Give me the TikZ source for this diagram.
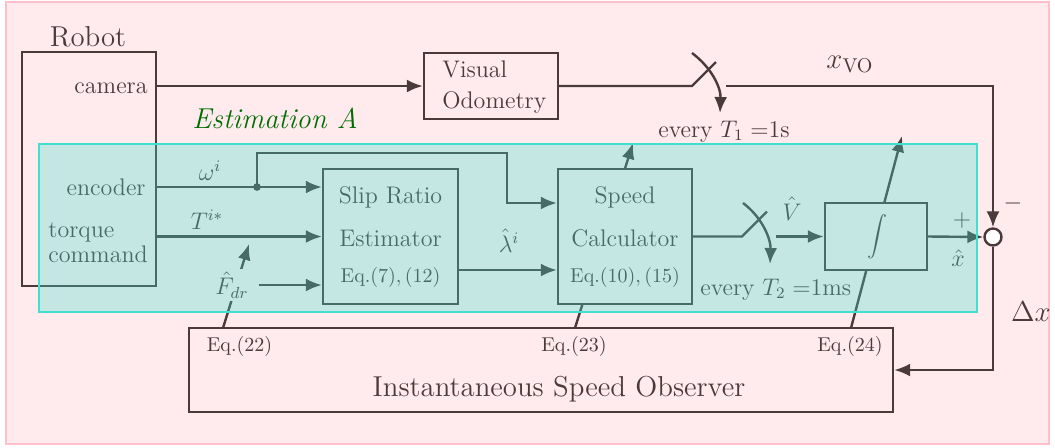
\documentclass[tikz,border=0pt]{standalone}
\usetikzlibrary{arrows.meta,calc}
\definecolor{bgpink}{RGB}{255,235,238}
\definecolor{framepink}{RGB}{255,192,203}
\definecolor{ink}{RGB}{74,58,58}
\definecolor{turq}{RGB}{64,224,208}
\definecolor{estgreen}{RGB}{0,110,0}
\begin{document}
\begin{tikzpicture}[x=0.5pt,y=-0.5pt,
  box/.style={draw=ink, line width=1.2pt, fill=bgpink, inner sep=0pt, rectangle},
  conn/.style={draw=ink, line width=1.2pt},
  arr/.style={conn, -{Latex[length=8pt,width=6.5pt]}},
  lbl/.style={text=ink, inner sep=0pt, anchor=base}]
\useasboundingbox (0,0) rectangle (1055,447);
\path[fill=bgpink, draw=framepink, line width=1.2pt] (6,2) rectangle (1049,444);

% parameter-update lines (drawn beneath the blocks)
\coordinate (p22s) at (223,328); \coordinate (p22e) at (249,244);
\coordinate (p23s) at (575,328); \coordinate (p23e) at (633,143);
\coordinate (p24s) at (851,328); \coordinate (p24e) at (902,136);
\draw[arr] (p22s) -- (p22e);
\draw[arr] (p23s) -- (p23e);
\draw[arr] (p24s) -- (p24e);

% blocks
\node[box, minimum width=67pt, minimum height=117pt] (robot) at (89,169) {};
\node[box, minimum width=67pt, minimum height=33pt] (vo) at (491,86) {};
\node[box, minimum width=67.5pt, minimum height=67.5pt] (slip) at (390.5,236.5) {};
\node[box, minimum width=67pt, minimum height=67.5pt] (speed) at (625,236.5) {};
\node[box, minimum width=51pt, minimum height=33.5pt] (integ) at (876,236.5) {};
\node[box, minimum width=352pt, minimum height=42pt] (iso) at (541,370) {};
\node[circle, draw=ink, fill=white, line width=1.2pt, minimum size=8.5pt, inner sep=0pt] (sum) at (993,237) {};
\node[lbl, anchor=center, fill=bgpink, inner sep=1.5pt] (fdr) at (232,285) {\large$\hat{F}_{dr}$};

% coordinates
\coordinate (wdot) at (257,187);
\coordinate (spin) at ($(speed.west)+(0,-33.5)$);
\coordinate (sw1in) at (692,86); \coordinate (sw1tip) at (716,62); \coordinate (sw1out) at (726,86);
\coordinate (arc1s) at (692,53); \coordinate (arc1e) at (720,113);
\coordinate (sw2in) at (742,236.5); \coordinate (sw2tip) at (767,211.5); \coordinate (sw2out) at (776,236.5);
\coordinate (arc2s) at (743,203); \coordinate (arc2e) at (770,264);

% connectors
\draw[arr] (vo.west -| robot.east) -- (vo.west);
\draw[conn] (vo.east) -- (sw1in) -- (sw1tip);
\draw[arr] (arc1s) .. controls (712,68) and (721,88) .. (arc1e);
\draw[arr] (sw1out) -| (sum.north);
\draw[arr] (robot.east |- wdot) -- (slip.west |- wdot);
\fill[ink] (wdot) circle (1.9pt);
\draw[arr] (wdot) |- (507,153) |- (spin);
\draw[arr] (robot.east |- slip.west) -- (slip.west);
\draw[arr, shorten <=3.5pt] (fdr.east) -- (slip.west |- fdr.east);
\draw[arr] ($(slip.east)+(0,33.5)$) -- ($(speed.west)+(0,33.5)$);
\draw[conn] (speed.east) -- (sw2in) -- (sw2tip);
\draw[arr] (arc2s) .. controls (763,218) and (771,240) .. (arc2e);
\draw[arr] (sw2out) -- (integ.west);
\draw[arr] (integ.east) -- (sum.west);
\draw[arr] (sum.south) |- (iso.east);

% labels
\node[lbl] (trobot) at (88,46) {\Large Robot};
\node[lbl, anchor=base east] (tcam) at (148,93) {\large camera};
\node[lbl, anchor=base east] (tenc) at (146,195) {\large encoder};
\node[lbl, anchor=base west] (ttq1) at (48,237) {\large torque};
\node[lbl, anchor=base west] (ttq2) at (48,262) {\large command};
\node[lbl, text=estgreen, anchor=base west] (test) at (192,128) {\Large\itshape Estimation A};
\node[lbl, anchor=base west] (tvo1) at (442,77) {\large Visual};
\node[lbl, anchor=base west] (tvo2) at (442,108) {\large Odometry};
\node[lbl] (tw) at (210,180) {\large$\omega^{i}$};
\node[lbl] (tT) at (207,229) {\large$T^{i*}$};
\node[lbl] (ts1) at (390.5,203) {\large Slip Ratio};
\node[lbl] (ts2) at (390.5,246) {\large Estimator};
\node[lbl] (ts3) at (390.5,282) {Eq.$(7),(12)$};
\node[lbl] (tc1) at (625,203) {\large Speed};
\node[lbl] (tc2) at (625,246) {\large Calculator};
\node[lbl] (tc3) at (625,282) {Eq.$(10),(15)$};
\node[lbl] (tlam) at (509,252) {\large$\hat{\lambda}^{i}$};
\node[lbl] (tV) at (792,220) {\large$\hat{V}$};
\node[lbl, anchor=center] (tint) at (877,237) {$\displaystyle\int$};
\node[lbl, anchor=base west] (tT1) at (658,137) {\large every $T_1=$1s};
\node[lbl, anchor=base west] (tT2) at (700,295) {\large every $T_2=$1ms};
\node[lbl] (txvo) at (850,68) {\Large$x_{\mathrm{VO}}$};
\node[lbl, anchor=center] (tplus) at (962,220) {\large$+$};
\node[lbl, anchor=center] (tminus) at (1013,203) {\large$-$};
\node[lbl, anchor=center] (txhat) at (958,258) {\large$\hat{x}$};
\node[lbl, anchor=center] (tdx) at (1031,312) {\Large$\Delta x$};
\node[lbl] (te22) at (239.5,351) {Eq.$(22)$};
\node[lbl] (te23) at (574,351) {Eq.$(23)$};
\node[lbl] (te24) at (850,351) {Eq.$(24)$};
\node[lbl] (tiso) at (559,396) {\Large Instantaneous Speed Observer};

% Estimation A overlay
\path[fill=turq, fill opacity=0.3, draw=turq, draw opacity=1, line width=1.2pt] (39,144) rectangle (977,312);
\end{tikzpicture}
\end{document}
